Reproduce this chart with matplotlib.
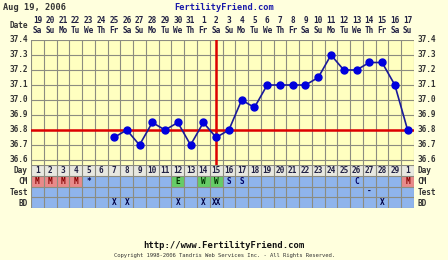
import numpy as np
import matplotlib.pyplot as plt
from matplotlib.patches import Rectangle

# chart data
dates = [19, 20, 21, 22, 23, 24, 25, 26, 27, 28, 29, 30, 31,
         1, 2, 3, 4, 5, 6, 7, 8, 9, 10, 11, 12, 13, 14, 15, 16, 17]
wdays = (['Sa', 'Su', 'Mo', 'Tu', 'We', 'Th', 'Fr'] * 5)[:30]
cycle_day = [str(d) for d in range(1, 30)] + ['1']

temp_day = [7, 8, 9, 10, 11, 12, 13, 14, 15, 16, 17, 18, 19, 20, 21, 22,
            23, 24, 25, 26, 27, 28, 29, 30]
temps = [36.75, 36.80, 36.70, 36.85, 36.80, 36.85, 36.70, 36.85, 36.75, 36.80,
         37.00, 36.95, 37.10, 37.10, 37.10, 37.10, 37.15, 37.30, 37.20, 37.20,
         37.25, 37.25, 37.10, 36.80]
temp_ticks = [36.6, 36.7, 36.8, 36.9, 37.0, 37.1, 37.2, 37.3, 37.4]
coverline = 36.8
ovulation_day = 15

cm = {1: 'M', 2: 'M', 3: 'M', 4: 'M', 5: '*', 12: 'E', 14: 'W', 15: 'W',
      16: 'S', 17: 'S', 26: 'C', 30: 'M'}
test = {27: '-'}
bd = {7: 'X', 8: 'X', 12: 'X', 14: 'X', 15: 'XX', 28: 'X'}

W, H = 448, 260
BG = '#FFFFDD'
PLOT_BG = '#FFFFC0'
BLUE_ROW = '#8FB4EC'
GRID = '#8C8C80'
FONT = 'DejaVu Sans Mono'
FS = 5.6
TXT = '#333333'

fig = plt.figure(figsize=(W / 100, H / 100), dpi=100, facecolor=BG)

x0, x1 = 31, 414
y_top, y_bot = 40, 165   # 37.4 at y_top, axes bottom at y_bot
ymin = 36.6 - (y_bot - 160) / 150.0
ax = fig.add_axes([x0 / W, 1 - y_bot / H, (x1 - x0) / W, (y_bot - y_top) / H])
ax.set_facecolor(PLOT_BG)
ax.set_xlim(0, 30)
ax.set_ylim(ymin, 37.4)
for i in range(31):
    ax.axvline(i, color=GRID, lw=0.8, zorder=1)
for t in temp_ticks:
    ax.axhline(t, color=GRID, lw=0.8, zorder=1)
ax.axhline(coverline, color='#DD0000', lw=1.8, zorder=2)
ax.axvline(ovulation_day - 0.5, color='#DD0000', lw=1.8, zorder=2)
xs = np.array(temp_day) - 0.5
ax.plot(xs, temps, color='#1A1A99', lw=1.2, zorder=3)
ax.plot(xs, temps, 'o', color='#0000DD', ms=5, zorder=4)
ax.set_xticks([])
ax.set_yticks([])
for s in ax.spines.values():
    s.set_visible(False)

for t in temp_ticks:
    lab = '%.1f' % t
    ax.text(-0.25, t, lab, ha='right', va='center', fontsize=FS, family=FONT,
            fontweight='bold', color=TXT, clip_on=False)
    ax.text(30.3, t, lab, ha='left', va='center', fontsize=FS, family=FONT,
            fontweight='bold', color=TXT, clip_on=False)

for i in range(30):
    ax.text(i + 0.5, 37.4 + 0.13, str(dates[i]), ha='center', va='center',
            fontsize=FS, family=FONT, fontweight='bold', color='#222244')
    ax.text(i + 0.5, 37.4 + 0.06, wdays[i], ha='center', va='center',
            fontsize=FS, family=FONT, fontweight='bold', color='#222244')
ax.text(-0.25, 37.4 + 0.095, 'Date', ha='right', va='center', fontsize=FS,
        family=FONT, fontweight='bold', color=TXT)

# table below the chart
t_bot = 208
tb = fig.add_axes([x0 / W, 1 - t_bot / H, (x1 - x0) / W, (t_bot - y_bot) / H])
tb.set_xlim(0, 30)
tb.set_ylim(4, 0)
tb.axis('off')
tb.add_patch(Rectangle((0, 0), 30, 1, fc='#E8E8E0', ec='none'))
tb.add_patch(Rectangle((0, 1), 30, 3, fc=BLUE_ROW, ec='none'))
for d, v in cm.items():
    if v == 'M':
        tb.add_patch(Rectangle((d - 1, 1), 1, 1, fc='#E88A8A', ec='none'))
    elif v in ('E', 'W'):
        tb.add_patch(Rectangle((d - 1, 1), 1, 1, fc='#66CC66', ec='none'))
for i in range(31):
    tb.plot([i, i], [0, 4], color=GRID, lw=0.8)
for j in range(5):
    tb.plot([0, 30], [j, j], color=GRID, lw=0.8)

cm_col = {'M': '#880000', '*': '#000044', 'E': '#003300', 'W': '#003300',
          'S': '#000066', 'C': '#000066'}
for i in range(30):
    tb.text(i + 0.5, 0.5, cycle_day[i], ha='center', va='center', fontsize=FS,
            family=FONT, fontweight='bold', color='#222244')
for d, v in cm.items():
    tb.text(d - 0.5, 1.5, v, ha='center', va='center', fontsize=FS,
            family=FONT, fontweight='bold', color=cm_col[v])
for d, v in test.items():
    tb.text(d - 0.5, 2.5, v, ha='center', va='center', fontsize=FS,
            family=FONT, fontweight='bold', color='#000044')
for d, v in bd.items():
    tb.text(d - 0.5, 3.5, v, ha='center', va='center', fontsize=FS,
            family=FONT, fontweight='bold', color='#000044')
for j, lab in enumerate(['Day', 'CM', 'Test', 'BD']):
    tb.text(-0.25, j + 0.55, lab, ha='right', va='center', fontsize=FS,
            family=FONT, fontweight='bold', color=TXT)
    tb.text(30.3, j + 0.55, lab, ha='left', va='center', fontsize=FS,
            family=FONT, fontweight='bold', color=TXT)

fig.text(3 / W, 1 - 8 / H, 'Aug 19, 2006', ha='left', va='center',
         fontsize=FS + 0.6, family=FONT, fontweight='bold', color=TXT)
fig.text(0.5, 1 - 8 / H, 'FertilityFriend.com', ha='center', va='center',
         fontsize=FS + 0.6, family=FONT, fontweight='bold', color='#1A1AAA')
fig.text(0.5, 1 - 246 / H, 'http://www.FertilityFriend.com', ha='center',
         va='center', fontsize=FS + 0.8, family=FONT, fontweight='bold',
         color='#111111')
fig.text(0.5, 1 - 255 / H,
         'Copyright 1998-2006 Tandris Web Services Inc. - All Rights Reserved.',
         ha='center', va='center', fontsize=4.0, family=FONT, color=TXT)

fig.savefig('out.png', dpi=100, facecolor=BG)
